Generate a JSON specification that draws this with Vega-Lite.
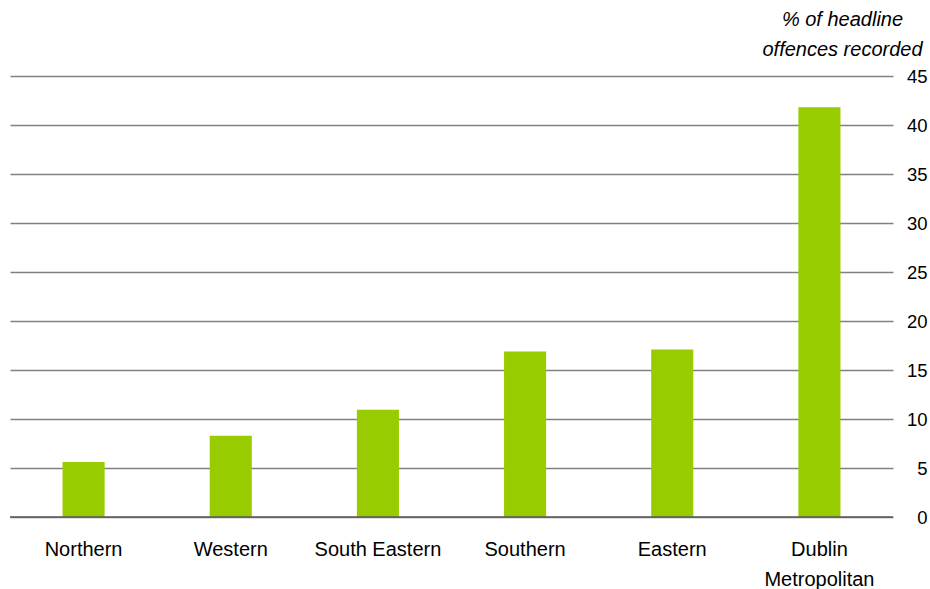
{
  "$schema": "https://vega.github.io/schema/vega-lite/v6.json",
  "autosize": "none",
  "width": 883,
  "height": 441,
  "padding": {"left": 10, "top": 76, "right": 37, "bottom": 72},
  "background": "white",
  "config": {
    "view": {"stroke": null},
    "font": "Liberation Sans",
    "axis": {"labelFont": "Liberation Sans", "titleFont": "Liberation Sans"}
  },
  "data": {
    "values": [
      {"region": "Northern", "pct": 5.6},
      {"region": "Western", "pct": 8.3},
      {"region": "South Eastern", "pct": 10.95},
      {"region": "Southern", "pct": 16.9},
      {"region": "Eastern", "pct": 17.1},
      {"region": "Dublin Metropolitan", "pct": 41.8}
    ]
  },
  "layer": [
    {
      "mark": {"type": "bar", "color": "#99cc00"},
      "encoding": {
        "x": {
          "field": "region",
          "type": "nominal",
          "sort": null,
          "scale": {"paddingInner": 0.714, "paddingOuter": 0.357},
          "axis": {
            "title": null,
            "domain": false,
            "ticks": false,
            "labelAngle": 0,
            "labelFontSize": 20,
            "labelColor": "#000000",
            "labelPadding": 38,
            "labelBaseline": "alphabetic",
            "labelLineHeight": 30,
            "labelExpr": "datum.value == 'Dublin Metropolitan' ? ['Dublin', 'Metropolitan'] : datum.value"
          }
        },
        "y": {
          "field": "pct",
          "type": "quantitative",
          "scale": {"domain": [0, 45], "nice": false},
          "axis": {
            "orient": "right",
            "values": [0, 5, 10, 15, 20, 25, 30, 35, 40, 45],
            "domain": false,
            "ticks": false,
            "grid": true,
            "gridColor": "#808080",
            "gridWidth": 1.3,
            "gridOpacity": 1,
            "labelFontSize": 18.5,
            "labelColor": "#000000",
            "labelAlign": "right",
            "labelPadding": 34,
            "title": ["% of headline", "offences recorded"],
            "titleAngle": 0,
            "titleFontStyle": "italic",
            "titleFontWeight": "normal",
            "titleFontSize": 20,
            "titleColor": "#000000",
            "titleAlign": "center",
            "titleBaseline": "alphabetic",
            "titleLineHeight": 30,
            "titleX": -51,
            "titleY": -51
          }
        }
      }
    },
    {
      "data": {"values": [{"z": 0}]},
      "mark": {"type": "rule", "color": "#5a5a5a", "strokeWidth": 1.5},
      "encoding": {
        "y": {"field": "z", "type": "quantitative"}
      }
    }
  ]
}
